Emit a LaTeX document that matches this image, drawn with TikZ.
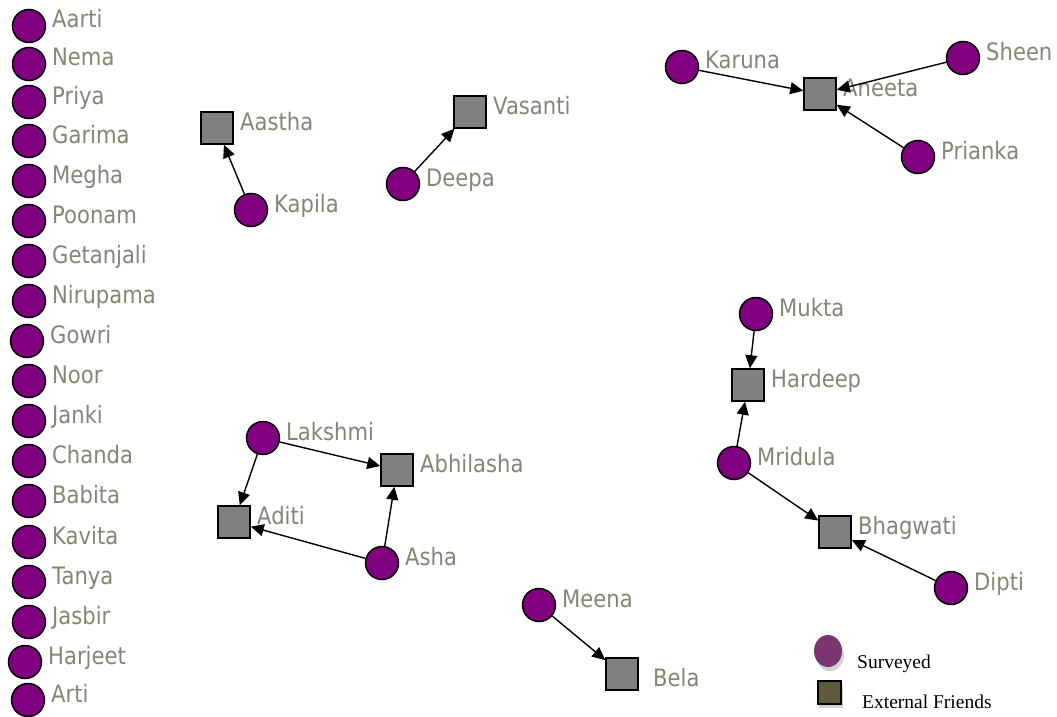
\documentclass[tikz,border=0pt]{standalone}
\usepackage{fontspec}
\newfontfamily\lblfont{DejaVu Sans}[FakeStretch=0.88]
\newfontfamily\legfont{Liberation Serif}
\usetikzlibrary{arrows.meta,shapes.geometric}
\definecolor{lblgray}{RGB}{133,133,115}
\definecolor{survpurple}{RGB}{128,0,128}
\definecolor{extgray}{RGB}{128,128,128}
\definecolor{legpurple}{RGB}{123,53,112}
\definecolor{legolive}{RGB}{94,90,58}
\tikzset{
  surv/.style={circle,draw=black,line width=1.5pt,fill=survpurple,minimum size=33pt,inner sep=0pt},
  extf/.style={rectangle,draw=black,line width=1.5pt,fill=extgray,minimum size=32pt,inner sep=0pt},
  lbl/.style={anchor=base west,inner sep=0pt,text=lblgray,font=\lblfont\fontsize{24pt}{24pt}\selectfont},
  link/.style={line width=1.4pt,-{Triangle[length=13pt,width=12pt]}},
  legtxt/.style={anchor=base west,inner sep=0pt,font=\legfont\fontsize{19.5pt}{19.5pt}\selectfont}
}
\newcommand\SurvNode[4]{\node[surv] (#1) at (#2,#3) {};\node[lbl] (#1-l) at (#2+23,#3+2) {#4};}
\newcommand\ExtNode[4]{\node[extf] (#1) at (#2,#3) {};\node[lbl] (#1-l) at (#2+23,#3+2) {#4};}
\begin{document}
\begin{tikzpicture}[x=1pt,y=-1pt]
\useasboundingbox (0,0) rectangle (1057,717);
% left column
\SurvNode{aarti}{29}{26}{Aarti}
\SurvNode{nema}{29}{64}{Nema}
\SurvNode{priya}{29}{102}{Priya}
\SurvNode{garima}{29}{141}{Garima}
\SurvNode{megha}{29}{181}{Megha}
\SurvNode{poonam}{29}{221}{Poonam}
\SurvNode{getanjali}{29}{261}{Getanjali}
\SurvNode{nirupama}{29}{301}{Nirupama}
\SurvNode{gowri}{27}{341}{Gowri}
\SurvNode{noor}{29}{381}{Noor}
\SurvNode{janki}{29}{421}{Janki}
\SurvNode{chanda}{29}{461}{Chanda}
\SurvNode{babita}{29}{501}{Babita}
\SurvNode{kavita}{29}{542}{Kavita}
\SurvNode{tanya}{29}{582}{Tanya}
\SurvNode{jasbir}{29}{622}{Jasbir}
\SurvNode{harjeet}{25}{662}{Harjeet}
\SurvNode{arti}{28}{700}{Arti}
% groups
\ExtNode{aastha}{217}{128}{Aastha}
\SurvNode{kapila}{251}{210}{Kapila}
\ExtNode{vasanti}{470}{112}{Vasanti}
\SurvNode{deepa}{403}{184}{Deepa}
\SurvNode{karuna}{682}{67}{Karuna}
\ExtNode{aneeta}{820}{94}{Aneeta}
\SurvNode{sheen}{963}{58}{Sheen}
\SurvNode{prianka}{918}{157}{Prianka}
\SurvNode{mukta}{756}{314}{Mukta}
\ExtNode{hardeep}{748}{385}{Hardeep}
\SurvNode{mridula}{734}{463}{Mridula}
\ExtNode{bhagwati}{835}{532}{Bhagwati}
\SurvNode{dipti}{951}{588}{Dipti}
\SurvNode{lakshmi}{263}{438}{Lakshmi}
\ExtNode{abhilasha}{397}{470}{Abhilasha}
\ExtNode{aditi}{234}{522}{Aditi}
\SurvNode{asha}{382}{563}{Asha}
\SurvNode{meena}{539}{605}{Meena}
\node[extf] (bela) at (622,674) {};
\node[lbl] (bela-l) at (653,686) {Bela};
% links
\draw[link] (kapila) -- (aastha);
\draw[link] (deepa) -- (vasanti);
\draw[link] (karuna) -- (aneeta);
\draw[link] (sheen) -- (aneeta);
\draw[link] (prianka) -- (aneeta);
\draw[link] (mukta) -- (hardeep);
\draw[link] (mridula) -- (hardeep);
\draw[link] (mridula) -- (bhagwati);
\draw[link] (dipti) -- (bhagwati);
\draw[link] (lakshmi) -- (aditi);
\draw[link] (lakshmi) -- (abhilasha);
\draw[link] (asha) -- (aditi);
\draw[link] (asha) -- (abhilasha);
\draw[link] (meena) -- (bela);
% legend
\fill[black!35,opacity=0.5] (830,655) ellipse (14pt and 16pt);
\node[ellipse,fill=legpurple,minimum width=28pt,minimum height=32pt,inner sep=0pt] (legs) at (828,651) {};
\node[legtxt] (legs-l) at (857,668) {Surveyed};
\fill[black!35,opacity=0.5] (819,684) rectangle (843,708);
\node[rectangle,draw=black,line width=2pt,fill=legolive,minimum size=23pt,inner sep=0pt] (lege) at (829,692) {};
\node[legtxt] (lege-l) at (862,708) {External Friends};
\end{tikzpicture}
\end{document}
